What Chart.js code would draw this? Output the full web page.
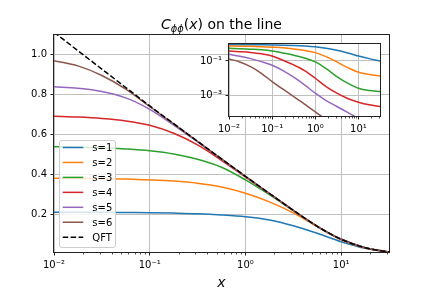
<!DOCTYPE html>
<html>
<head>
<meta charset="utf-8">
<script src="https://cdn.jsdelivr.net/npm/chart.js@4.4.0/dist/chart.umd.min.js"></script>
<style>
  html, body { margin: 0; padding: 0; background: #fff; }
  #wrap { position: relative; width: 432px; height: 288px; overflow: hidden; }
  #wrap canvas, #wrap svg { position: absolute; left: 0; top: 0; }
  svg { font-family: "DejaVu Sans", sans-serif; pointer-events: none; }
</style>
</head>
<body>
<div id="wrap">
  <canvas id="mainChart" width="432" height="288"></canvas>
  <canvas id="insetChart" width="432" height="288"></canvas>
  <svg id="overlay" width="432" height="288"></svg>
</div>
<script>
const xs = [0.01, 0.0178, 0.0316, 0.0562, 0.1, 0.178, 0.316, 0.562, 1, 1.78, 3.16, 5.62, 10, 17.8, 31.6];
const seriesLabels = ["s=1", "s=2", "s=3", "s=4", "s=5", "s=6", "QFT"];

// main panel: C_phiphi(x)
const s1 = [0.21, 0.21, 0.21, 0.209, 0.208, 0.206, 0.203, 0.197, 0.188, 0.172, 0.143, 0.105, 0.063, 0.03, 0.01];
const s2 = [0.38, 0.379, 0.378, 0.376, 0.372, 0.366, 0.355, 0.336, 0.305, 0.262, 0.207, 0.138, 0.073, 0.032, 0.011];
const s3 = [0.538, 0.536, 0.533, 0.527, 0.518, 0.502, 0.475, 0.435, 0.372, 0.298, 0.218, 0.14, 0.075, 0.033, 0.011];
const s4 = [0.69, 0.686, 0.679, 0.667, 0.645, 0.605, 0.547, 0.47, 0.386, 0.303, 0.22, 0.14, 0.075, 0.033, 0.011];
const s5 = [0.838, 0.83, 0.814, 0.782, 0.725, 0.646, 0.562, 0.476, 0.39, 0.304, 0.22, 0.14, 0.075, 0.033, 0.011];
const s6 = [0.968, 0.942, 0.894, 0.826, 0.739, 0.652, 0.565, 0.477, 0.39, 0.304, 0.22, 0.14, 0.075, 0.033, 0.011];
const qft = [1.11, 1.018, 0.926, 0.834, 0.742, 0.653, 0.565, 0.477, 0.39, 0.304, 0.22, 0.14, 0.075, 0.033, 0.011];

// inset panel (log-log)
const in1 = [0.858, 0.858, 0.858, 0.839, 0.821, 0.803, 0.769, 0.72, 0.645, 0.53, 0.407, 0.287, 0.193, 0.136, 0.1];
const in2 = [0.72, 0.705, 0.689, 0.659, 0.617, 0.565, 0.485, 0.398, 0.299, 0.177, 0.0877, 0.0416, 0.0225, 0.0166, 0.0139];
const in3 = [0.53, 0.507, 0.474, 0.435, 0.373, 0.287, 0.215, 0.148, 0.0877, 0.0365, 0.0127, 0.0053, 0.00274, 0.00202, 0.00177];
const in4 = [0.373, 0.341, 0.306, 0.257, 0.193, 0.109, 0.059, 0.028, 0.0102, 0.0034, 0.00142, 0.000705, 0.000435, 0.000306, 0.000245];
const in5 = [0.24, 0.185, 0.136, 0.0916, 0.0565, 0.028, 0.0117, 0.00425, 0.00142, 0.00054, 0.000245, 0.000112, 0.0000507, 0.0000251, 0.0000125];
const in6 = [0.13, 0.0877, 0.0475, 0.0197, 0.0066, 0.0024, 0.000916, 0.000334, 0.000122, 0.0000425, 0.0000162, 0.00000617, 0.00000235, 0.000000896, 0.000000341];

// ticks
const xTickValues = [0.01, 0.1, 1, 10];
const xTickLabels = ["10\u207B\u00B2", "10\u207B\u00B9", "10\u2070", "10\u00B9"];
const yTickValues = [0.2, 0.4, 0.6, 0.8, 1.0];
const yTickLabels = ["0.2", "0.4", "0.6", "0.8", "1.0"];
const insetYTickValues = [0.1, 0.001];
const insetYTickLabels = ["10\u207B\u00B9", "10\u207B\u00B3"];
const minorMultipliers = [2, 3, 4, 5, 6, 7, 8, 9];

const colors = ["#1f77b4", "#ff7f0e", "#2ca02c", "#d62728", "#9467bd", "#8c564b", "#000000"];
const dash = [5.5, 2.4];

Chart.defaults.font.family = "'DejaVu Sans', sans-serif";
Chart.defaults.font.size = 10;
Chart.defaults.color = "#000";

function toPoints(ys) {
    return xs.map((x, i) => ({ x: x, y: ys[i] }));
}

function makeDatasets(list) {
    return list.map((ys, i) => ({
        label: seriesLabels[i],
        data: toPoints(ys),
        borderColor: colors[i],
        borderWidth: 1.5,
        borderDash: i === 6 ? dash : [],
        pointRadius: 0,
        fill: false,
        cubicInterpolationMode: "monotone",
        order: -i
    }));
}

// spines on all four sides
const spinePlugin = {
    id: "spines",
    afterDatasetsDraw(chart) {
        const a = chart.chartArea, ctx = chart.ctx;
        ctx.save();
        ctx.strokeStyle = "#222";
        ctx.lineWidth = 1;
        ctx.strokeRect(Math.floor(a.left) - 0.5, Math.floor(a.top) - 0.5,
            Math.round(a.right - a.left) + 1, Math.round(a.bottom - a.top) + 1);
        ctx.restore();
    }
};

// minor ticks on the log x axis
const minorTickPlugin = {
    id: "minorTicks",
    afterDraw(chart) {
        const sx = chart.scales.x, a = chart.chartArea, ctx = chart.ctx;
        ctx.save();
        ctx.strokeStyle = "#222";
        ctx.lineWidth = 0.8;
        for (let d = -2; d <= 1; d++) {
            for (const k of minorMultipliers) {
                const v = k * Math.pow(10, d);
                if (v <= sx.min || v >= sx.max) continue;
                const px = Math.round(sx.getPixelForValue(v)) + 0.5;
                ctx.beginPath();
                ctx.moveTo(px, a.bottom + 0.5);
                ctx.lineTo(px, a.bottom + 2.5);
                ctx.stroke();
            }
        }
        ctx.restore();
    }
};

const whiteAreaPlugin = {
    id: "whiteArea",
    beforeDraw(chart) {
        const a = chart.chartArea, ctx = chart.ctx;
        ctx.save();
        ctx.fillStyle = "#fff";
        ctx.fillRect(a.left, a.top, a.right - a.left, a.bottom - a.top);
        ctx.restore();
    }
};

const gridStyle = { color: "#c0c0c0", lineWidth: 1, tickColor: "#222", tickWidth: 1, tickLength: 3.5 };

new Chart(document.getElementById("mainChart").getContext("2d"), {
    type: "line",
    data: { datasets: makeDatasets([s1, s2, s3, s4, s5, s6, qft]) },
    options: {
        responsive: false,
        animation: false,
        devicePixelRatio: 1,
        events: [],
        layout: { padding: { left: 0, top: 35, right: 43, bottom: 0 } },
        plugins: { legend: { display: false }, title: { display: false }, tooltip: { enabled: false } },
        scales: {
            x: {
                type: "logarithmic",
                min: 0.01,
                max: 31.6,
                afterBuildTicks: s => { s.ticks = xTickValues.map(v => ({ value: v })); },
                afterFit: s => { s.height = 36; },
                ticks: {
                    autoSkip: false, maxRotation: 0, padding: 4,
                    callback: v => xTickLabels[xTickValues.indexOf(v)] ?? ""
                },
                grid: gridStyle,
                border: { display: false }
            },
            y: {
                type: "linear",
                min: 0.0115,
                max: 1.0965,
                afterBuildTicks: s => { s.ticks = yTickValues.map(v => ({ value: v })); },
                afterFit: s => { s.width = 54; },
                ticks: {
                    autoSkip: false, padding: 3.5,
                    callback: v => yTickLabels[yTickValues.indexOf(v)] ?? ""
                },
                grid: gridStyle,
                border: { display: false }
            }
        }
    },
    plugins: [spinePlugin, minorTickPlugin]
});

new Chart(document.getElementById("insetChart").getContext("2d"), {
    type: "line",
    data: { datasets: makeDatasets([in1, in2, in3, in4, in5, in6]) },
    options: {
        responsive: false,
        animation: false,
        devicePixelRatio: 1,
        events: [],
        layout: { padding: { left: 0, top: 44, right: 52, bottom: 152 } },
        plugins: { legend: { display: false }, title: { display: false }, tooltip: { enabled: false } },
        scales: {
            x: {
                type: "logarithmic",
                min: 0.01,
                max: 31.6,
                afterBuildTicks: s => { s.ticks = xTickValues.map(v => ({ value: v })); },
                afterFit: s => { s.height = 20; },
                ticks: {
                    autoSkip: false, maxRotation: 0, padding: 4,
                    callback: v => xTickLabels[xTickValues.indexOf(v)] ?? ""
                },
                grid: gridStyle,
                border: { display: false }
            },
            y: {
                type: "logarithmic",
                min: 7.2e-5,
                max: 0.936,
                afterBuildTicks: s => { s.ticks = insetYTickValues.map(v => ({ value: v })); },
                afterFit: s => { s.width = 229; },
                ticks: {
                    autoSkip: false, padding: 3.5,
                    callback: v => insetYTickLabels[insetYTickValues.indexOf(v)] ?? ""
                },
                grid: gridStyle,
                border: { display: false }
            }
        }
    },
    plugins: [whiteAreaPlugin, spinePlugin, minorTickPlugin]
});

// title, x label and legend as svg text
const NS = "http://www.w3.org/2000/svg";
const svg = document.getElementById("overlay");
svg.innerHTML =
    '<text x="221.5" y="29" text-anchor="middle" font-size="14">' +
    '<tspan font-style="italic">C</tspan>' +
    '<tspan font-style="italic" font-size="9.8" dy="2.5">\u03D5\u03D5</tspan>' +
    '<tspan dy="-2.5">(</tspan><tspan font-style="italic">x</tspan>) on the line</text>' +
    '<text x="221.5" y="286.5" text-anchor="middle" font-size="14" font-style="italic">x</text>' +
    '<rect x="59.5" y="140.5" width="56" height="107" rx="2.5" fill="rgba(255,255,255,0.8)" stroke="#cccccc" stroke-width="1"/>';

seriesLabels.forEach((lab, i) => {
    const y = 147.5 + 14.95 * i;
    const line = document.createElementNS(NS, "line");
    line.setAttribute("x1", 62.7); line.setAttribute("x2", 83.3);
    line.setAttribute("y1", y); line.setAttribute("y2", y);
    line.setAttribute("stroke", colors[i]);
    line.setAttribute("stroke-width", 1.5);
    if (i === 6) line.setAttribute("stroke-dasharray", dash.join(" "));
    svg.appendChild(line);
    const t = document.createElementNS(NS, "text");
    t.setAttribute("x", 92.3); t.setAttribute("y", y + 3.6);
    t.setAttribute("font-size", 10);
    t.textContent = lab;
    svg.appendChild(t);
});
</script>
</body>
</html>
